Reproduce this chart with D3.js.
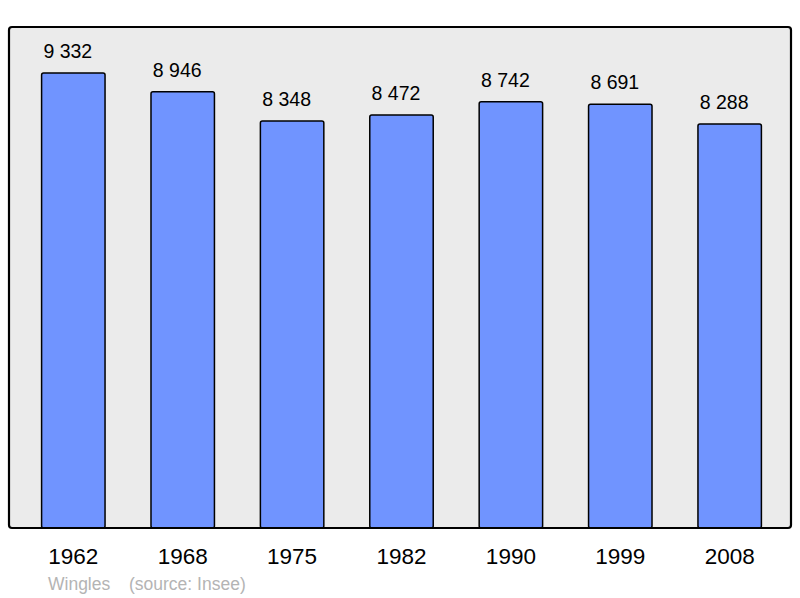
<!DOCTYPE html>
<html>
<head>
<meta charset="utf-8">
<script src="https://cdn.jsdelivr.net/npm/d3@7/dist/d3.min.js"></script>
<style>
body { margin: 0; background: #fff; }
text { font-family: "Liberation Sans", Arial, sans-serif; }
</style>
</head>
<body>
<svg id="chart" width="800" height="598"></svg>
<script>
var years = ["1962", "1968", "1975", "1982", "1990", "1999", "2008"];
var population = [9332, 8946, 8348, 8472, 8742, 8691, 8288];
var labels = ["9 332", "8 946", "8 348", "8 472", "8 742", "8 691", "8 288"];
var townName = "Wingles";
var sourceText = "(source: Insee)";

var svg = d3.select("#chart"),
	panel = {left: 9, top: 27, right: 791, bottom: 528};

var data = years.map(function(y, i) {
	return {year: y, value: population[i], label: labels[i]};
});

// band scale across panel, bars ~63px wide on ~109px step
var x = d3.scaleBand()
	.domain(years)
	.range([panel.left + 14, panel.right - 11])
	.paddingInner(0.42)
	.paddingOuter(0.17);

var y = d3.scaleLinear()
	.domain([0, 10275])
	.range([panel.bottom, panel.top]);

svg.append("rect")
	.attr("x", panel.left)
	.attr("y", panel.top)
	.attr("width", panel.right - panel.left)
	.attr("height", panel.bottom - panel.top)
	.attr("rx", 3)
	.attr("fill", "#ebebeb")
	.attr("stroke", "none");

svg.selectAll(".bar")
	.data(data)
	.enter().append("rect")
	.attr("class", "bar")
	.attr("x", function(d) { return x(d.year); })
	.attr("y", function(d) { return y(d.value); })
	.attr("width", x.bandwidth())
	.attr("height", function(d) { return panel.bottom - y(d.value); })
	.attr("rx", 2)
	.attr("fill", "#7094ff")
	.attr("stroke", "#000")
	.attr("stroke-width", 1.5);

// value labels sit a little left of the bar centre, as in the original
svg.selectAll(".val")
	.data(data)
	.enter().append("text")
	.attr("class", "val")
	.attr("x", function(d) { return x(d.year) + x.bandwidth() / 2 - 5.5; })
	.attr("y", function(d) { return y(d.value) - 15; })
	.attr("text-anchor", "middle")
	.attr("font-size", 19.5)
	.attr("fill", "#000")
	.text(function(d) { return d.label; });

// frame drawn over the bars
svg.append("rect")
	.attr("x", panel.left)
	.attr("y", panel.top)
	.attr("width", panel.right - panel.left)
	.attr("height", panel.bottom - panel.top)
	.attr("rx", 3)
	.attr("fill", "none")
	.attr("stroke", "#000")
	.attr("stroke-width", 2.2);

var xAxis = svg.append("g")
	.attr("transform", "translate(0," + panel.bottom + ")")
	.call(d3.axisBottom(x).tickSize(0).tickPadding(20));
xAxis.select(".domain").remove();
xAxis.selectAll("text")
	.attr("font-size", 22.5)
	.attr("font-family", "'Liberation Sans', Arial, sans-serif")
	.attr("fill", "#000");

svg.append("text")
	.attr("x", 48)
	.attr("y", 590)
	.attr("font-size", 17.5)
	.attr("fill", "#b4b4b4")
	.text(townName);

svg.append("text")
	.attr("x", 129)
	.attr("y", 590)
	.attr("font-size", 17.5)
	.attr("fill", "#b4b4b4")
	.text(sourceText);
</script>
</body>
</html>
